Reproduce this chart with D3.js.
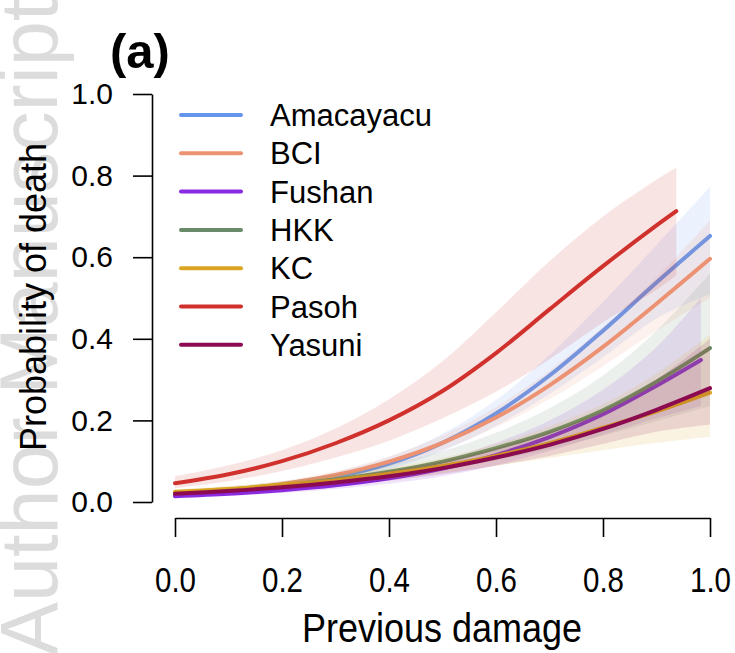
<!DOCTYPE html>
<html>
<head>
<meta charset="utf-8">
<script src="https://cdn.jsdelivr.net/npm/d3@7"></script>
<style>
  html, body { margin: 0; padding: 0; background: #fff; }
  svg { display: block; font-family: "Liberation Sans", Arial, sans-serif; }
</style>
</head>
<body>
<svg id="chart" width="735" height="653"></svg>
<script>
// ---------- data ----------
const sites = ["Amacayacu", "BCI", "Fushan", "HKK", "KC", "Pasoh", "Yasuni"];
const colors = ["#6495ED", "#EC9272", "#8A2BE2", "#698B69", "#DAA520", "#D0312D", "#8B0A50"];

const damage       = [0, 0.1, 0.2, 0.3, 0.4, 0.5, 0.6, 0.7, 0.8, 0.9, 1.0];
const damageFushan = [0, 0.1, 0.2, 0.3, 0.4, 0.5, 0.6, 0.7, 0.8, 0.9, 0.983];
const damagePasoh  = [0, 0.1, 0.2, 0.3, 0.4, 0.5, 0.6, 0.7, 0.8, 0.9, 0.937];

const amacayacuFit = [0.016, 0.025, 0.039, 0.061, 0.094, 0.145, 0.217, 0.31, 0.42, 0.538, 0.652];
const amacayacuLo  = [0.011, 0.019, 0.031, 0.051, 0.080, 0.125, 0.187, 0.265, 0.355, 0.45, 0.51];
const amacayacuHi  = [0.022, 0.032, 0.048, 0.073, 0.110, 0.167, 0.25, 0.36, 0.49, 0.63, 0.772];

const bciFit = [0.019, 0.029, 0.044, 0.066, 0.099, 0.145, 0.207, 0.286, 0.38, 0.486, 0.596];
const bciLo  = [0.015, 0.024, 0.037, 0.057, 0.086, 0.128, 0.183, 0.252, 0.333, 0.42, 0.50];
const bciHi  = [0.023, 0.034, 0.051, 0.076, 0.112, 0.163, 0.233, 0.322, 0.43, 0.55, 0.69];

const fushanFit = [0.014, 0.020, 0.029, 0.041, 0.058, 0.082, 0.115, 0.159, 0.215, 0.285, 0.348];
const fushanLo  = [0.010, 0.015, 0.022, 0.032, 0.045, 0.063, 0.090, 0.125, 0.165, 0.205, 0.235];
const fushanHi  = [0.019, 0.026, 0.037, 0.052, 0.073, 0.103, 0.145, 0.20, 0.275, 0.38, 0.50];

const hkkFit = [0.022, 0.030, 0.041, 0.055, 0.074, 0.099, 0.132, 0.172, 0.225, 0.295, 0.377];
const hkkLo  = [0.016, 0.023, 0.032, 0.044, 0.059, 0.078, 0.102, 0.13, 0.163, 0.198, 0.235];
const hkkHi  = [0.029, 0.038, 0.051, 0.068, 0.092, 0.125, 0.17, 0.23, 0.31, 0.42, 0.56];

const kcFit = [0.025, 0.032, 0.042, 0.053, 0.069, 0.088, 0.113, 0.144, 0.182, 0.222, 0.268];
const kcLo  = [0.020, 0.026, 0.034, 0.044, 0.056, 0.071, 0.089, 0.108, 0.127, 0.145, 0.16];
const kcHi  = [0.031, 0.039, 0.050, 0.064, 0.083, 0.108, 0.142, 0.185, 0.24, 0.315, 0.41];

const pasohFit = [0.046, 0.068, 0.100, 0.144, 0.200, 0.272, 0.365, 0.472, 0.578, 0.678, 0.713];
const pasohLo  = [0.034, 0.051, 0.076, 0.109, 0.150, 0.205, 0.27, 0.35, 0.44, 0.52, 0.556];
const pasohHi  = [0.063, 0.090, 0.127, 0.180, 0.252, 0.345, 0.465, 0.59, 0.70, 0.79, 0.82];

const yasuniFit = [0.020, 0.027, 0.036, 0.048, 0.063, 0.083, 0.109, 0.14, 0.179, 0.226, 0.279];
const yasuniLo  = [0.016, 0.022, 0.030, 0.040, 0.052, 0.068, 0.089, 0.113, 0.142, 0.172, 0.19];
const yasuniHi  = [0.025, 0.033, 0.044, 0.058, 0.076, 0.100, 0.132, 0.172, 0.225, 0.30, 0.40];

const xTicks = [0, 0.2, 0.4, 0.6, 0.8, 1.0];
const yTicks = [0, 0.2, 0.4, 0.6, 0.8, 1.0];

// ---------- assemble ----------
const xsBySite  = [damage, damage, damageFushan, damage, damage, damagePasoh, damage];
const fitBySite = [amacayacuFit, bciFit, fushanFit, hkkFit, kcFit, pasohFit, yasuniFit];
const loBySite  = [amacayacuLo, bciLo, fushanLo, hkkLo, kcLo, pasohLo, yasuniLo];
const hiBySite  = [amacayacuHi, bciHi, fushanHi, hkkHi, kcHi, pasohHi, yasuniHi];

const series = sites.map((name, i) => ({
  name, color: colors[i],
  pts: xsBySite[i].map((x, j) => ({ x, fit: fitBySite[i][j], lo: loBySite[i][j], hi: hiBySite[i][j] }))
}));

// ---------- drawing ----------
const svg = d3.select("#chart");
const x = d3.scaleLinear().domain([0, 1]).range([175, 710]);
const y = d3.scaleLinear().domain([0, 1]).range([502, 94]);

// watermark
svg.append("text")
  .attr("transform", "translate(57,656) rotate(-90)")
  .attr("font-size", 81)
  .attr("fill", "#dcdcdc")
  .text("Author Manuscript");

const area = d3.area().curve(d3.curveCatmullRom)
  .x(d => x(d.x)).y0(d => y(d.lo)).y1(d => y(d.hi));
const line = d3.line().curve(d3.curveCatmullRom)
  .x(d => x(d.x)).y(d => y(d.fit));

const plot = svg.append("g");
series.forEach(s => {
  plot.append("path").attr("d", area(s.pts))
    .attr("fill", s.color).attr("fill-opacity", 0.13).attr("stroke", "none");
  plot.append("path").attr("d", line(s.pts))
    .attr("fill", "none").attr("stroke", s.color)
    .attr("stroke-width", 4).attr("stroke-linecap", "round");
});

// y axis
const yAxis = svg.append("g").attr("transform", "translate(152,0)")
  .call(d3.axisLeft(y).tickValues(yTicks).tickFormat(d3.format(".1f"))
    .tickSize(19).tickSizeOuter(0).tickPadding(20));
yAxis.selectAll("path, line").attr("stroke", "#000").attr("stroke-width", 1.6);
yAxis.selectAll("text").attr("font-size", 30).attr("fill", "#000")
  .attr("font-family", "Liberation Sans, Arial, sans-serif");

// x axis
const xAxis = svg.append("g").attr("transform", "translate(0,518)")
  .call(d3.axisBottom(x).tickValues(xTicks).tickFormat(d3.format(".1f"))
    .tickSize(19).tickSizeOuter(0));
xAxis.selectAll("path, line").attr("stroke", "#000").attr("stroke-width", 1.6);
xAxis.selectAll("text").attr("font-size", 36).attr("fill", "#000")
  .attr("font-family", "Liberation Sans, Arial, sans-serif")
  .attr("y", 0).attr("dy", 0)
  .attr("transform", "translate(0,74) scale(0.82,1)");

// axis titles
svg.append("text")
  .attr("transform", "translate(442,642) scale(0.9,1)")
  .attr("text-anchor", "middle").attr("font-size", 40).attr("fill", "#000")
  .text("Previous damage");

svg.append("text")
  .attr("transform", "translate(46,297) rotate(-90)")
  .attr("text-anchor", "middle").attr("font-size", 36).attr("fill", "#000")
  .text("Probability of death");

// panel label
svg.append("text")
  .attr("x", 110).attr("y", 68)
  .attr("font-size", 49).attr("font-weight", "bold").attr("fill", "#000")
  .text("(a)");

// legend
const legend = svg.append("g");
series.forEach((s, i) => {
  const cy = 115 + i * 38.3;
  legend.append("line").attr("x1", 181).attr("x2", 241).attr("y1", cy).attr("y2", cy)
    .attr("stroke", s.color).attr("stroke-width", 4).attr("stroke-linecap", "round");
  legend.append("text").attr("x", 270).attr("y", cy + 11)
    .attr("font-size", 31).attr("fill", "#000").text(s.name);
});
</script>
</body>
</html>
